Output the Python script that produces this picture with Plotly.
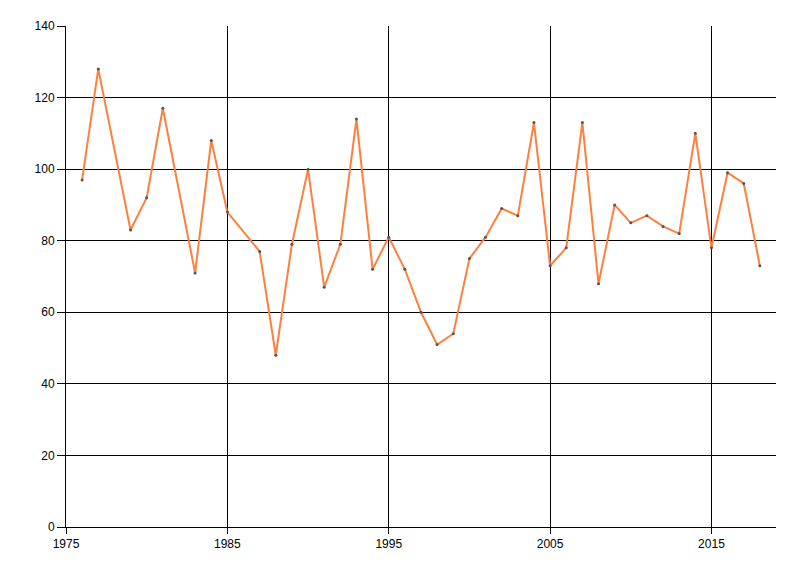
import plotly.graph_objects as go

years = [1976, 1977, 1979, 1980, 1981, 1983, 1984, 1985, 1987, 1988, 1989, 1990,
         1991, 1992, 1993, 1994, 1995, 1996, 1997, 1998, 1999, 2000, 2001, 2002,
         2003, 2004, 2005, 2006, 2007, 2008, 2009, 2010, 2011, 2012, 2013, 2014,
         2015, 2016, 2017, 2018]
values = [97, 128, 83, 92, 117, 71, 108, 88, 77, 48, 79, 100,
          67, 79, 114, 72, 81, 72, 60, 51, 54, 75, 81, 89,
          87, 113, 73, 78, 113, 68, 90, 85, 87, 84, 82, 110,
          78, 99, 96, 73]

x_ticks = [1975, 1985, 1995, 2005, 2015]
y_ticks = [0, 20, 40, 60, 80, 100, 120, 140]

fig = go.Figure()
fig.add_trace(go.Scatter(
    x=years, y=values, mode="lines+markers",
    line=dict(color="#ff7f3f", width=2),
    marker=dict(color="#555555", size=3),
    showlegend=False,
))

fig.update_layout(
    width=800, height=576,
    margin=dict(l=58, r=32, t=18, b=57),
    paper_bgcolor="white", plot_bgcolor="white",
    font=dict(family="Liberation Sans, Arial, sans-serif", size=12, color="black"),
    xaxis=dict(
        range=[1975, 2019], tickvals=x_ticks,
        showgrid=True, gridcolor="black", gridwidth=1,
        showline=True, linecolor="black", linewidth=1,
        ticks="outside", ticklen=6, tickcolor="black",
        zeroline=False,
    ),
    yaxis=dict(
        range=[0, 140], tickvals=y_ticks,
        showgrid=True, gridcolor="black", gridwidth=1,
        showline=True, linecolor="black", linewidth=1,
        ticks="outside", ticklen=8, tickcolor="black",
        zeroline=False,
    ),
)

fig.write_html("out.html")
